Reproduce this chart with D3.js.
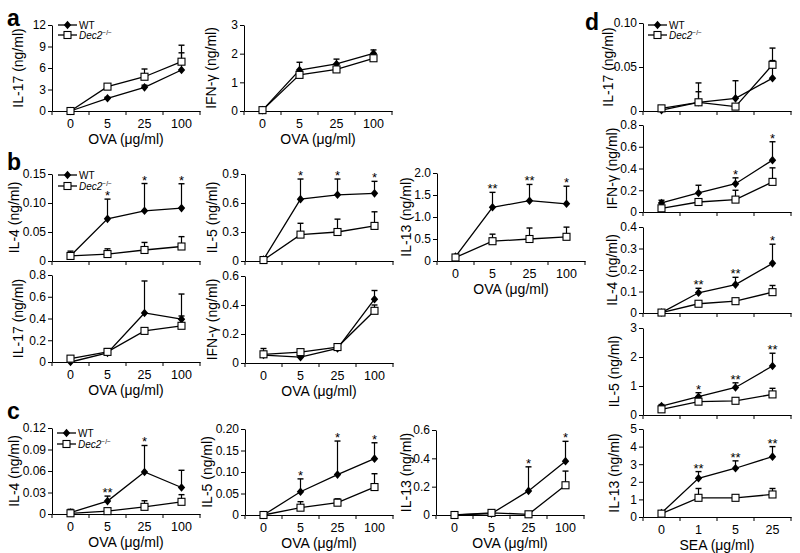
<!DOCTYPE html>
<html><head><meta charset="utf-8">
<script src="https://cdn.jsdelivr.net/npm/d3@7"></script>
<style>
body{margin:0;background:#fff}
svg{font-family:"Liberation Sans",Arial,sans-serif}
</style></head><body>
<svg id="chart" width="800" height="553"></svg>
<script>
const ovaDoses = ["0","5","25","100"];
const seaDoses = ["0","1","5","25"];

// panel a
const aIL17_WT = [0, 1.77, 3.3, 5.72];
const aIL17_WT_err = [0, 0.15, 0.3, 2.4];
const aIL17_KO = [0, 3.4, 4.78, 6.88];
const aIL17_KO_err = [0, 0.1, 1.08, 2.3];
const aIL17_ticks = [0, 3, 6, 9, 12];
const aIL17_tickLabels = ["0","3","6","9","12"];

const aIFN_WT = [0.03, 1.43, 1.64, 2.01];
const aIFN_WT_err = [0, 0.27, 0.17, 0.12];
const aIFN_KO = [0.03, 1.26, 1.45, 1.84];
const aIFN_KO_err = [0, 0.03, 0.03, 0.05];
const aIFN_ticks = [0, 1, 2, 3];
const aIFN_tickLabels = ["0","1","2","3"];

// panel b
const bIL4_WT = [0.009, 0.0727, 0.0866, 0.0912];
const bIL4_WT_err = [0.008, 0.034, 0.047, 0.042];
const bIL4_KO = [0.0087, 0.012, 0.019, 0.025];
const bIL4_KO_err = [0.005, 0.009, 0.013, 0.017];
const bIL4_sig = ["", "*", "*", "*"];
const bIL4_ticks = [0, 0.05, 0.10, 0.15];
const bIL4_tickLabels = ["0","0.05","0.10","0.15"];

const bIL5_WT = [0.015, 0.64, 0.685, 0.70];
const bIL5_WT_err = [0.005, 0.208, 0.163, 0.124];
const bIL5_KO = [0.01, 0.273, 0.30, 0.363];
const bIL5_KO_err = [0, 0.117, 0.133, 0.146];
const bIL5_sig = ["", "*", "*", "*"];
const bIL5_ticks = [0, 0.3, 0.6, 0.9];
const bIL5_tickLabels = ["0","0.3","0.6","0.9"];

const bIL13_WT = [0.1, 1.22, 1.37, 1.3];
const bIL13_WT_err = [0.03, 0.34, 0.37, 0.4];
const bIL13_KO = [0.08, 0.45, 0.5, 0.55];
const bIL13_KO_err = [0.03, 0.16, 0.25, 0.22];
const bIL13_sig = ["", "**", "**", "*"];
const bIL13_ticks = [0, 0.5, 1.0, 1.5, 2.0];
const bIL13_tickLabels = ["0","0.5","1.0","1.5","2.0"];

const bIL17_WT = [0, 0.084, 0.451, 0.394];
const bIL17_WT_err = [0, 0.01, 0.294, 0.231];
const bIL17_KO = [0.031, 0.093, 0.286, 0.333];
const bIL17_KO_err = [0.02, 0.03, 0.02, 0.09];
const bIL17_ticks = [0, 0.2, 0.4, 0.6, 0.8];
const bIL17_tickLabels = ["0","0.2","0.4","0.6","0.8"];

const bIFN_WT = [0.055, 0.04, 0.1, 0.44];
const bIFN_WT_err = [0.045, 0.01, 0.03, 0.06];
const bIFN_KO = [0.06, 0.075, 0.11, 0.36];
const bIFN_KO_err = [0.01, 0.01, 0.01, 0.04];
const bIFN_ticks = [0, 0.2, 0.4, 0.6];
const bIFN_tickLabels = ["0","0.2","0.4","0.6"];

// panel c
const cIL4_WT = [0.002, 0.018, 0.0586, 0.037];
const cIL4_WT_err = [0.0045, 0.007, 0.037, 0.024];
const cIL4_KO = [0.001, 0.004, 0.010, 0.017];
const cIL4_KO_err = [0.002, 0.002, 0.0085, 0.01];
const cIL4_sig = ["", "**", "*", ""];
const cIL4_ticks = [0, 0.03, 0.06, 0.09, 0.12];
const cIL4_tickLabels = ["0","0.03","0.06","0.09","0.12"];

const cIL5_WT = [0, 0.054, 0.094, 0.131];
const cIL5_WT_err = [0, 0.03, 0.078, 0.037];
const cIL5_KO = [0, 0.017, 0.0286, 0.065];
const cIL5_KO_err = [0, 0.014, 0.009, 0.031];
const cIL5_sig = ["", "*", "*", "*"];
const cIL5_ticks = [0, 0.05, 0.10, 0.15, 0.20];
const cIL5_tickLabels = ["0","0.05","0.10","0.15","0.20"];

const cIL13_WT = [0, 0.01, 0.17, 0.38];
const cIL13_WT_err = [0, 0.005, 0.17, 0.14];
const cIL13_KO = [0, 0.015, 0.005, 0.21];
const cIL13_KO_err = [0, 0.005, 0.005, 0.1];
const cIL13_sig = ["", "", "*", "*"];
const cIL13_ticks = [0, 0.2, 0.4, 0.6];
const cIL13_tickLabels = ["0","0.2","0.4","0.6"];

// panel d
const dIL17_WT = [0.001, 0.0099, 0.0144, 0.0373];
const dIL17_WT_err = [0, 0.012, 0.02, 0.02];
const dIL17_KO = [0.003, 0.0099, 0.005, 0.0525];
const dIL17_KO_err = [0.001, 0.022, 0.002, 0.019];
const dIL17_ticks = [0, 0.05, 0.10];
const dIL17_tickLabels = ["0","0.05","0.10"];

const dIFN_WT = [0.083, 0.175, 0.26, 0.477];
const dIFN_WT_err = [0.025, 0.071, 0.054, 0.169];
const dIFN_KO = [0.034, 0.092, 0.114, 0.277];
const dIFN_KO_err = [0.01, 0.02, 0.086, 0.129];
const dIFN_sig = ["", "", "*", "*"];
const dIFN_ticks = [0, 0.2, 0.4, 0.6, 0.8];
const dIFN_tickLabels = ["0","0.2","0.4","0.6","0.8"];

const dIL4_WT = [0.002, 0.094, 0.132, 0.231];
const dIL4_WT_err = [0.003, 0.021, 0.034, 0.089];
const dIL4_KO = [0.002, 0.043, 0.055, 0.097];
const dIL4_KO_err = [0.002, 0.005, 0.006, 0.031];
const dIL4_sig = ["", "**", "**", "*"];
const dIL4_ticks = [0, 0.1, 0.2, 0.3, 0.4];
const dIL4_tickLabels = ["0","0.1","0.2","0.3","0.4"];

const dIL5_WT = [0.31, 0.63, 0.95, 1.69];
const dIL5_WT_err = [0.05, 0.14, 0.16, 0.44];
const dIL5_KO = [0.195, 0.46, 0.49, 0.71];
const dIL5_KO_err = [0.03, 0.05, 0.05, 0.21];
const dIL5_sig = ["", "*", "**", "**"];
const dIL5_ticks = [0, 1, 2, 3];
const dIL5_tickLabels = ["0","1","2","3"];

const dIL13_WT = [0.23, 2.2, 2.77, 3.43];
const dIL13_WT_err = [0.05, 0.38, 0.42, 0.57];
const dIL13_KO = [0.19, 1.09, 1.09, 1.28];
const dIL13_KO_err = [0.05, 0.53, 0.05, 0.34];
const dIL13_sig = ["", "**", "**", "**"];
const dIL13_ticks = [0, 1, 2, 3, 4, 5];
const dIL13_tickLabels = ["0","1","2","3","4","5"];

const svg = d3.select("#chart");
const FONT = "Liberation Sans, Arial, sans-serif";
const W = 148;

function diamond(g, cx, cy){
  g.append("path").attr("d", `M${cx},${cy-4.3}L${cx+3.7},${cy}L${cx},${cy+4.3}L${cx-3.7},${cy}Z`).attr("fill","#000");
}
function square(g, cx, cy){
  g.append("rect").attr("x", cx-3.5).attr("y", cy-3.5).attr("width",7).attr("height",7)
    .attr("fill","#fff").attr("stroke","#000").attr("stroke-width",1.1);
}

function drawChart(c){
  const g = svg.append("g");
  const x = d3.scaleBand().domain(c.cats).range([c.x0, c.x0 + W]);
  const y = d3.scaleLinear().domain([0, c.max]).range([c.yBot, c.yTop]);
  const cx = d => x(d) + x.bandwidth()/2;

  const ya = g.append("g").attr("transform", `translate(${c.x0},0)`)
    .call(d3.axisLeft(y).tickValues(c.ticks).tickFormat((d,i) => c.tickLabels[i]).tickSize(4).tickSizeOuter(0).tickPadding(2));
  ya.attr("font-family", FONT).attr("font-size", 12);
  ya.selectAll("text").attr("fill", "#000");
  ya.selectAll("line,path").attr("stroke", "#000");

  const xa = g.append("g").attr("transform", `translate(0,${c.yBot})`)
    .call(d3.axisBottom(x).tickSize(0).tickPadding(8).tickSizeOuter(0).tickFormat(c.showX ? (d => d) : (() => "")));
  xa.attr("font-family", FONT).attr("font-size", 12.5);
  xa.selectAll("text").attr("fill", "#000");
  xa.select(".domain").attr("stroke", "#000");
  const bounds = c.cats.map(d => x(d)).concat([c.x0 + W]);
  g.selectAll(null).data(bounds).enter().append("line")
    .attr("x1", d => d).attr("x2", d => d).attr("y1", c.yBot).attr("y2", c.yBot + 4)
    .attr("stroke", "#000");

  if (c.xTitle) {
    g.append("text").attr("x", c.x0 + W/2).attr("y", c.yBot + 33).attr("text-anchor","middle")
      .attr("font-family", FONT).attr("font-size", 14).text(c.xTitle);
  }
  const cy = (c.yTop + c.yBot)/2;
  g.append("text").attr("transform", `translate(${c.x0 + c.labelDx + 5},${cy}) rotate(-90)`)
    .attr("text-anchor","middle").attr("font-family", FONT).attr("font-size", 14).text(c.ylabel);

  const line = d3.line().x((d,i) => cx(c.cats[i])).y(d => y(d));
  g.append("path").attr("d", line(c.wt)).attr("fill","none").attr("stroke","#000").attr("stroke-width",1.3);
  g.append("path").attr("d", line(c.ko)).attr("fill","none").attr("stroke","#000").attr("stroke-width",1.3);

  [[c.wt, c.wtErr],[c.ko, c.koErr]].forEach(([v, e]) => {
    v.forEach((m, i) => {
      if (!e[i]) return;
      const px = cx(c.cats[i]);
      g.append("line").attr("x1", px).attr("x2", px).attr("y1", y(m)).attr("y2", y(m + e[i])).attr("stroke","#000").attr("stroke-width",1.2);
      g.append("line").attr("x1", px - 3).attr("x2", px + 3).attr("y1", y(m + e[i])).attr("y2", y(m + e[i])).attr("stroke","#000").attr("stroke-width",1.4);
    });
  });
  c.wt.forEach((m, i) => diamond(g, cx(c.cats[i]), y(m)));
  c.ko.forEach((m, i) => square(g, cx(c.cats[i]), y(m)));

  if (c.sig) {
    c.sig.forEach((s, i) => {
      if (!s) return;
      const top = Math.min(y(c.wt[i] + c.wtErr[i]), y(c.ko[i] + c.koErr[i]));
      g.append("text").attr("x", cx(c.cats[i])).attr("y", top + 1).attr("text-anchor","middle")
        .attr("font-family", FONT).attr("font-size", 13).text(s);
    });
  }
  if (c.legend) legend(c.legend[0], c.legend[1], c.legend[2]);
}

function legend(lx, yWT, yKO){
  const g = svg.append("g");
  g.append("line").attr("x1", lx).attr("x2", lx + 19).attr("y1", yWT).attr("y2", yWT).attr("stroke","#000").attr("stroke-width",1.3);
  diamond(g, lx + 9.5, yWT);
  g.append("text").attr("x", lx + 21).attr("y", yWT + 3.5).attr("font-family", FONT).attr("font-size", 10).text("WT");
  g.append("line").attr("x1", lx).attr("x2", lx + 19).attr("y1", yKO).attr("y2", yKO).attr("stroke","#000").attr("stroke-width",1.3);
  square(g, lx + 9.5, yKO);
  const t = g.append("text").attr("x", lx + 21).attr("y", yKO + 3.5).attr("font-family", FONT).attr("font-size", 10);
  t.append("tspan").attr("font-style","italic").text("Dec2");
  t.append("tspan").attr("font-size", 6.5).attr("dy", -3.5).text("−/−");
}

const OVA = "OVA (μg/ml)";
const SEA = "SEA (μg/ml)";

const charts = [
  {x0:52, yTop:25, yBot:111, cats:ovaDoses, max:12, ticks:aIL17_ticks, tickLabels:aIL17_tickLabels, ylabel:"IL-17 (ng/ml)", labelDx:-34,
   wt:aIL17_WT, wtErr:aIL17_WT_err, ko:aIL17_KO, koErr:aIL17_KO_err, showX:true, xTitle:OVA, legend:[58,25,35]},
  {x0:244, yTop:25, yBot:111, cats:ovaDoses, max:3, ticks:aIFN_ticks, tickLabels:aIFN_tickLabels, ylabel:"IFN-γ (ng/ml)", labelDx:-33,
   wt:aIFN_WT, wtErr:aIFN_WT_err, ko:aIFN_KO, koErr:aIFN_KO_err, showX:true, xTitle:OVA},

  {x0:52, yTop:174, yBot:261, cats:ovaDoses, max:0.15, ticks:bIL4_ticks, tickLabels:bIL4_tickLabels, ylabel:"IL-4 (ng/ml)", labelDx:-38,
   wt:bIL4_WT, wtErr:bIL4_WT_err, ko:bIL4_KO, koErr:bIL4_KO_err, sig:bIL4_sig, showX:false, legend:[58,175,186]},
  {x0:245, yTop:174, yBot:261, cats:ovaDoses, max:0.9, ticks:bIL5_ticks, tickLabels:bIL5_tickLabels, ylabel:"IL-5 (ng/ml)", labelDx:-33,
   wt:bIL5_WT, wtErr:bIL5_WT_err, ko:bIL5_KO, koErr:bIL5_KO_err, sig:bIL5_sig, showX:false},
  {x0:437, yTop:173, yBot:261, cats:ovaDoses, max:2.0, ticks:bIL13_ticks, tickLabels:bIL13_tickLabels, ylabel:"IL-13 (ng/ml)", labelDx:-31,
   wt:bIL13_WT, wtErr:bIL13_WT_err, ko:bIL13_KO, koErr:bIL13_KO_err, sig:bIL13_sig, showX:true, xTitle:OVA},
  {x0:52, yTop:275, yBot:362, cats:ovaDoses, max:0.8, ticks:bIL17_ticks, tickLabels:bIL17_tickLabels, ylabel:"IL-17 (ng/ml)", labelDx:-34,
   wt:bIL17_WT, wtErr:bIL17_WT_err, ko:bIL17_KO, koErr:bIL17_KO_err, showX:true, xTitle:OVA},
  {x0:245, yTop:276, yBot:363, cats:ovaDoses, max:0.6, ticks:bIFN_ticks, tickLabels:bIFN_tickLabels, ylabel:"IFN-γ (ng/ml)", labelDx:-33,
   wt:bIFN_WT, wtErr:bIFN_WT_err, ko:bIFN_KO, koErr:bIFN_KO_err, showX:true, xTitle:OVA},

  {x0:52, yTop:428, yBot:514, cats:ovaDoses, max:0.12, ticks:cIL4_ticks, tickLabels:cIL4_tickLabels, ylabel:"IL-4 (ng/ml)", labelDx:-38,
   wt:cIL4_WT, wtErr:cIL4_WT_err, ko:cIL4_KO, koErr:cIL4_KO_err, sig:cIL4_sig, showX:true, xTitle:OVA, legend:[57,433,444]},
  {x0:245, yTop:429, yBot:515, cats:ovaDoses, max:0.20, ticks:cIL5_ticks, tickLabels:cIL5_tickLabels, ylabel:"IL-5 (ng/ml)", labelDx:-38,
   wt:cIL5_WT, wtErr:cIL5_WT_err, ko:cIL5_KO, koErr:cIL5_KO_err, sig:cIL5_sig, showX:true, xTitle:OVA},
  {x0:436, yTop:430, yBot:515, cats:ovaDoses, max:0.6, ticks:cIL13_ticks, tickLabels:cIL13_tickLabels, ylabel:"IL-13 (ng/ml)", labelDx:-30,
   wt:cIL13_WT, wtErr:cIL13_WT_err, ko:cIL13_KO, koErr:cIL13_KO_err, sig:cIL13_sig, showX:true, xTitle:OVA},

  {x0:643, yTop:23, yBot:111, cats:seaDoses, max:0.10, ticks:dIL17_ticks, tickLabels:dIL17_tickLabels, ylabel:"IL-17 (ng/ml)", labelDx:-35,
   wt:dIL17_WT, wtErr:dIL17_WT_err, ko:dIL17_KO, koErr:dIL17_KO_err, showX:false, legend:[648,25,35]},
  {x0:643, yTop:125, yBot:212, cats:seaDoses, max:0.8, ticks:dIFN_ticks, tickLabels:dIFN_tickLabels, ylabel:"IFN-γ (ng/ml)", labelDx:-31,
   wt:dIFN_WT, wtErr:dIFN_WT_err, ko:dIFN_KO, koErr:dIFN_KO_err, sig:dIFN_sig, showX:false},
  {x0:643, yTop:227, yBot:313, cats:seaDoses, max:0.4, ticks:dIL4_ticks, tickLabels:dIL4_tickLabels, ylabel:"IL-4 (ng/ml)", labelDx:-31,
   wt:dIL4_WT, wtErr:dIL4_WT_err, ko:dIL4_KO, koErr:dIL4_KO_err, sig:dIL4_sig, showX:false},
  {x0:643, yTop:328, yBot:415, cats:seaDoses, max:3, ticks:dIL5_ticks, tickLabels:dIL5_tickLabels, ylabel:"IL-5 (ng/ml)", labelDx:-29,
   wt:dIL5_WT, wtErr:dIL5_WT_err, ko:dIL5_KO, koErr:dIL5_KO_err, sig:dIL5_sig, showX:false},
  {x0:643, yTop:429, yBot:517, cats:seaDoses, max:5, ticks:dIL13_ticks, tickLabels:dIL13_tickLabels, ylabel:"IL-13 (ng/ml)", labelDx:-29,
   wt:dIL13_WT, wtErr:dIL13_WT_err, ko:dIL13_KO, koErr:dIL13_KO_err, sig:dIL13_sig, showX:true, xTitle:SEA}
];
charts.forEach(drawChart);

const panelLetters = [["a",7,26],["b",7,170],["c",7,419],["d",585,30]];
svg.selectAll(null).data(panelLetters).enter().append("text")
  .attr("x", d => d[1]).attr("y", d => d[2]).attr("font-family", FONT).attr("font-size", 23).attr("font-weight","bold")
  .text(d => d[0]);
</script>
</body></html>
